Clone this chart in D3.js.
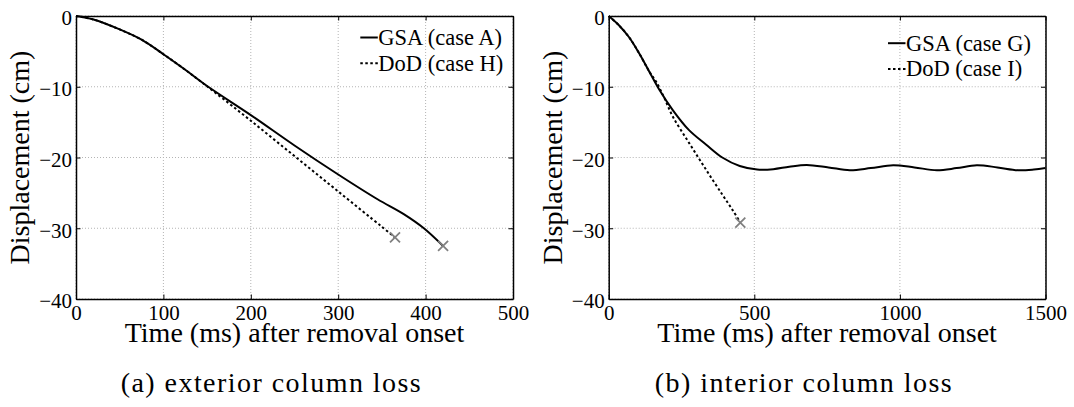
<!DOCTYPE html>
<html>
<head>
<meta charset="utf-8">
<script src="https://cdn.jsdelivr.net/npm/d3@7"></script>
<style>
body { margin: 0; background: #fff; }
svg { display: block; }
svg text { font-family: 'Liberation Serif', 'Times New Roman', Times, 'DejaVu Serif', serif !important; fill: #000; }
</style>
</head>
<body>
<div id="chart"></div>
<script>
// (a) exterior column loss -- time in ms, displacement in cm
var ext_gsa_t = [0, 20, 50, 75, 100, 125, 150, 200, 250, 300, 345, 375, 398, 420];
var ext_gsa_d = [0, -0.5, -1.9, -3.35, -5.4, -7.6, -9.9, -14.0, -18.3, -22.4, -25.9, -28.0, -30.0, -32.5];
var ext_dod_t = [0, 20, 50, 75, 100, 125, 140, 160, 200, 250, 300, 350, 365];
var ext_dod_d = [0, -0.5, -1.9, -3.35, -5.4, -7.6, -9.0, -10.9, -14.8, -19.8, -24.8, -29.8, -31.3];

// (b) interior column loss
var int_gsa_t = [0, 35, 70, 105, 140, 175, 220, 275, 335, 390, 450, 510, 565, 620, 680, 755, 828, 900, 977, 1050, 1127, 1195, 1264, 1335, 1405, 1460, 1500];
var int_gsa_d = [0, -1.3, -3.0, -5.3, -7.9, -10.5, -13.3, -16.1, -18.2, -20.0, -21.2, -21.7, -21.65, -21.3, -21.05, -21.4, -21.8, -21.5, -21.1, -21.4, -21.8, -21.5, -21.1, -21.4, -21.8, -21.7, -21.5];
var int_dod_t = [0, 35, 70, 105, 140, 163, 190, 220, 277, 334, 391, 425, 452];
var int_dod_d = [0, -1.3, -3.0, -5.3, -7.9, -9.3, -11.5, -14.2, -18.0, -21.7, -25.3, -27.4, -29.2];

var ext_xticks = [0, 100, 200, 300, 400, 500];
var int_xticks = [0, 500, 1000, 1500];
var yticks = [0, -10, -20, -30, -40];

var ext_legend = ['GSA (case A)', 'DoD (case H)'];
var int_legend = ['GSA (case G)', 'DoD (case I)'];
var x_label = 'Time (ms) after removal onset';
var y_label = 'Displacement (cm)';
var captions = ['(a) exterior column loss', '(b) interior column loss'];

var chart_width = 1074;
var chart_height = 407;

var svg = d3.select('#chart')
	.append('svg')
	.attr('width', chart_width)
	.attr('height', chart_height);

function zip(t, d) {
	return t.map(function(v, i){ return { t: v, d: d[i] }; });
}

function drawPanel(p) {
	var x_scale = d3.scaleLinear().domain([0, p.xmax]).range([p.left, p.right]);
	var y_scale = d3.scaleLinear().domain([-40, 0]).range([299, 16]);

	var g = svg.append('g');

	// dotted grid
	g.selectAll('.vgrid')
		.data(p.xticks)
		.enter()
		.append('line')
		.attr('x1', function(d){ return x_scale(d); })
		.attr('x2', function(d){ return x_scale(d); })
		.attr('y1', y_scale(0))
		.attr('y2', y_scale(-40))
		.attr('stroke', '#b4b4b4')
		.attr('stroke-dasharray', '1,2');

	g.selectAll('.hgrid')
		.data(yticks)
		.enter()
		.append('line')
		.attr('x1', p.left)
		.attr('x2', p.right)
		.attr('y1', function(d){ return y_scale(d); })
		.attr('y2', function(d){ return y_scale(d); })
		.attr('stroke', '#b4b4b4')
		.attr('stroke-dasharray', '1,2');

	// axes, ticks pointing inwards
	var x_axis = d3.axisBottom(x_scale).tickValues(p.xticks).tickSize(-4.5).tickSizeOuter(0).tickPadding(6).tickFormat(d3.format('d'));
	var y_axis = d3.axisLeft(y_scale).tickValues(yticks).tickSize(-4.5).tickSizeOuter(0).tickPadding(4);

	g.append('g')
		.attr('transform', 'translate(0,' + y_scale(-40) + ')')
		.call(x_axis);
	g.append('g')
		.attr('transform', 'translate(' + p.left + ',0)')
		.call(y_axis);
	g.append('g')
		.attr('transform', 'translate(0,' + y_scale(0) + ')')
		.call(d3.axisTop(x_scale).tickValues(p.xticks).tickSize(-4.5).tickSizeOuter(0).tickFormat(''));
	g.append('g')
		.attr('transform', 'translate(' + p.right + ',0)')
		.call(d3.axisRight(y_scale).tickValues(yticks).tickSize(-4.5).tickSizeOuter(0).tickFormat(''));

	g.selectAll('g').attr('font-family', null);
	g.selectAll('.domain').attr('stroke', '#000').attr('stroke-width', 1.5);
	g.selectAll('.tick line').attr('stroke', '#000').attr('stroke-width', 1);
	g.selectAll('.tick text')
		.attr('font-size', 21)
		.attr('fill', '#000');
	g.selectAll('.tick text').filter(function(){ return this.getAttribute('x') !== null; })
		.attr('dy', '0.42em');

	// curves
	var line = d3.line()
		.x(function(d){ return x_scale(d.t); })
		.y(function(d){ return y_scale(d.d); })
		.curve(d3.curveCatmullRom.alpha(0.5));

	g.append('path')
		.datum(p.gsa)
		.attr('d', line)
		.attr('fill', 'none')
		.attr('stroke', '#000')
		.attr('stroke-width', 2);

	g.append('path')
		.datum(p.dod)
		.attr('d', line)
		.attr('fill', 'none')
		.attr('stroke', '#000')
		.attr('stroke-width', 2)
		.attr('stroke-dasharray', '2.5,2.5');

	// failure markers at the end of each failed run
	g.selectAll('.marker')
		.data(p.markers)
		.enter()
		.append('path')
		.attr('d', function(d){
			var cx = x_scale(d.t), cy = y_scale(d.d), r = 5;
			return 'M' + (cx - r) + ',' + (cy - r) + 'L' + (cx + r) + ',' + (cy + r) +
				'M' + (cx - r) + ',' + (cy + r) + 'L' + (cx + r) + ',' + (cy - r);
		})
		.attr('stroke', '#808080')
		.attr('stroke-width', 1.8)
		.attr('fill', 'none');

	// legend
	p.legend.forEach(function(name, i){
		var base = p.legend_y + i * 25.7;
		g.append('line')
			.attr('x1', p.legend_x - 17.5)
			.attr('x2', p.legend_x)
			.attr('y1', base - 7.5)
			.attr('y2', base - 7.5)
			.attr('stroke', '#000')
			.attr('stroke-width', 2)
			.attr('stroke-dasharray', i === 0 ? null : '2.5,2.5');
		g.append('text')
			.attr('x', p.legend_x + 0.5)
			.attr('y', base)
			.attr('font-size', 22.5)
			.text(name);
	});

	// axis labels
	g.append('text')
		.attr('x', (p.left + p.right) / 2)
		.attr('y', 342)
		.attr('text-anchor', 'middle')
		.attr('font-size', 28)
		.text(x_label);

	g.append('text')
		.attr('transform', 'translate(' + (p.left - 47) + ',' + ((y_scale(0) + y_scale(-40)) / 2) + ') rotate(-90)')
		.attr('text-anchor', 'middle')
		.attr('font-size', 28)
		.text(y_label);

	// caption
	g.append('text')
		.attr('x', p.cap_x)
		.attr('y', 391.7)
		.attr('font-size', 28)
		.attr('textLength', p.cap_w)
		.attr('lengthAdjust', 'spacing')
		.text(p.caption);
}

drawPanel({
	left: 76, right: 513, xmax: 500, xticks: ext_xticks,
	gsa: zip(ext_gsa_t, ext_gsa_d),
	dod: zip(ext_dod_t, ext_dod_d),
	markers: [
		{ t: ext_dod_t[ext_dod_t.length - 1], d: ext_dod_d[ext_dod_d.length - 1] },
		{ t: ext_gsa_t[ext_gsa_t.length - 1], d: ext_gsa_d[ext_gsa_d.length - 1] }
	],
	legend: ext_legend, legend_x: 377.8, legend_y: 45,
	caption: captions[0], cap_x: 120.7, cap_w: 300
});

drawPanel({
	left: 608.7, right: 1045.5, xmax: 1500, xticks: int_xticks,
	gsa: zip(int_gsa_t, int_gsa_d),
	dod: zip(int_dod_t, int_dod_d),
	markers: [
		{ t: int_dod_t[int_dod_t.length - 1], d: int_dod_d[int_dod_d.length - 1] }
	],
	legend: int_legend, legend_x: 905.5, legend_y: 50.7,
	caption: captions[1], cap_x: 654.7, cap_w: 297
});
</script>
</body>
</html>
